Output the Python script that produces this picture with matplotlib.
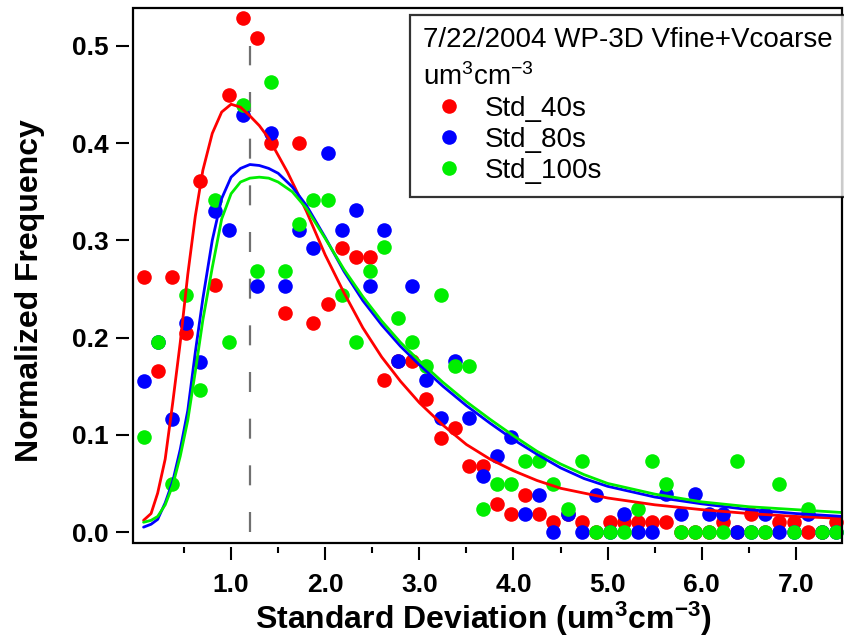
import matplotlib
matplotlib.use("Agg")
import matplotlib.pyplot as plt
from matplotlib.lines import Line2D
from matplotlib.patches import Rectangle

plt.rcParams['font.family'] = ['Liberation Sans', 'DejaVu Sans']
plt.rcParams['mathtext.fontset'] = 'custom'
plt.rcParams['mathtext.rm'] = 'Liberation Sans'
plt.rcParams['mathtext.bf'] = 'Liberation Sans:bold'
plt.rcParams['mathtext.default'] = 'rm'

# ---- data (bin centres, normalized frequencies) ----
bin_centers = [0.075, 0.225, 0.375, 0.525, 0.675, 0.825, 0.975, 1.125, 1.275, 1.425,
               1.575, 1.725, 1.875, 2.025, 2.175, 2.325, 2.475, 2.625, 2.775, 2.925,
               3.075, 3.225, 3.375, 3.525, 3.675, 3.825, 3.975, 4.125, 4.275, 4.425,
               4.575, 4.725, 4.875, 5.025, 5.175, 5.325, 5.475, 5.625, 5.775, 5.925,
               6.075, 6.225, 6.375, 6.525, 6.675, 6.825, 6.975, 7.125, 7.275, 7.425]

std_40s = [0.262, 0.166, 0.262, 0.205, 0.361, 0.254, 0.450, 0.529, 0.508, 0.400,
           0.225, 0.400, 0.215, 0.235, 0.292, 0.283, 0.283, 0.156, 0.176, 0.176,
           0.137, 0.097, 0.107, 0.068, 0.068, 0.029, 0.019, 0.038, 0.019, 0.010,
           0.019, 0.010, 0.000, 0.010, 0.010, 0.010, 0.010, 0.010, 0.000, 0.000,
           0.000, 0.010, 0.000, 0.019, 0.000, 0.010, 0.010, 0.000, 0.000, 0.010]

std_80s = [0.155, 0.195, 0.116, 0.215, 0.175, 0.330, 0.311, 0.429, 0.253, 0.410,
           0.253, 0.311, 0.292, 0.390, 0.311, 0.331, 0.253, 0.311, 0.176, 0.253,
           0.156, 0.117, 0.176, 0.117, 0.058, 0.078, 0.098, 0.019, 0.038, 0.000,
           0.019, 0.000, 0.038, 0.000, 0.019, 0.000, 0.000, 0.039, 0.019, 0.039,
           0.019, 0.019, 0.000, 0.000, 0.019, 0.000, 0.000, 0.019, 0.000, 0.000]

std_100s = [0.098, 0.195, 0.049, 0.244, 0.146, 0.341, 0.195, 0.439, 0.268, 0.463,
            0.268, 0.317, 0.341, 0.341, 0.244, 0.195, 0.268, 0.293, 0.220, 0.195,
            0.171, 0.244, 0.171, 0.171, 0.024, 0.049, 0.049, 0.073, 0.073, 0.049,
            0.024, 0.073, 0.000, 0.000, 0.000, 0.024, 0.073, 0.049, 0.000, 0.000,
            0.000, 0.000, 0.073, 0.000, 0.000, 0.049, 0.000, 0.024, 0.000, 0.000]

# ---- fitted curves ----
fit_40s_x = [0.07, 0.15, 0.22, 0.30, 0.38, 0.46, 0.54, 0.62, 0.70, 0.80, 0.90, 1.00,
             1.10, 1.20, 1.30, 1.40, 1.60, 1.80, 2.00, 2.20, 2.40, 2.60, 2.80, 3.00,
             3.25, 3.50, 3.75, 4.00, 4.25, 4.50, 4.75, 5.00, 5.50, 6.00, 6.50, 7.00, 7.50]
fit_40s_y = [0.012, 0.019, 0.040, 0.075, 0.133, 0.195, 0.265, 0.325, 0.372, 0.410, 0.432, 0.440,
             0.437, 0.428, 0.418, 0.405, 0.370, 0.330, 0.285, 0.246, 0.210, 0.180, 0.155, 0.133,
             0.110, 0.090, 0.075, 0.063, 0.053, 0.045, 0.040, 0.035, 0.028, 0.023, 0.019, 0.016, 0.014]

fit_80s_x = [0.07, 0.15, 0.22, 0.30, 0.38, 0.46, 0.54, 0.62, 0.70, 0.80, 0.90, 1.00,
             1.10, 1.20, 1.30, 1.40, 1.50, 1.65, 1.80, 2.00, 2.20, 2.40, 2.60, 2.80,
             3.00, 3.25, 3.50, 3.75, 4.00, 4.25, 4.50, 4.75, 5.00, 5.50, 6.00, 6.50, 7.00, 7.50]
fit_80s_y = [0.005, 0.008, 0.013, 0.030, 0.052, 0.085, 0.125, 0.185, 0.240, 0.300, 0.343, 0.365,
             0.374, 0.378, 0.377, 0.374, 0.369, 0.355, 0.336, 0.303, 0.268, 0.238, 0.213, 0.191,
             0.172, 0.150, 0.130, 0.112, 0.095, 0.080, 0.066, 0.055, 0.047, 0.036, 0.029, 0.023, 0.019, 0.016]

fit_100s_x = [0.07, 0.15, 0.22, 0.30, 0.38, 0.46, 0.54, 0.62, 0.70, 0.80, 0.90, 1.00,
              1.10, 1.20, 1.30, 1.40, 1.50, 1.65, 1.80, 2.00, 2.20, 2.40, 2.60, 2.80,
              3.00, 3.25, 3.50, 3.75, 4.00, 4.25, 4.50, 4.75, 5.00, 5.50, 6.00, 6.50, 7.00, 7.50]
fit_100s_y = [0.010, 0.012, 0.016, 0.028, 0.048, 0.078, 0.115, 0.165, 0.218, 0.272, 0.322, 0.348,
              0.360, 0.364, 0.365, 0.364, 0.360, 0.350, 0.333, 0.302, 0.270, 0.242, 0.217, 0.195,
              0.176, 0.154, 0.134, 0.116, 0.099, 0.083, 0.070, 0.059, 0.050, 0.039, 0.031, 0.026, 0.023, 0.020]

marker_line_x = 1.2
marker_line_y = [0.0, 0.5]

series_labels = ['Std_40s', 'Std_80s', 'Std_100s']
colors = ['#ff0000', '#0000ff', '#00ee00']
x_major = [1, 2, 3, 4, 5, 6, 7]
x_major_labels = ['1.0', '2.0', '3.0', '4.0', '5.0', '6.0', '7.0']
x_minor = [0.5, 1.5, 2.5, 3.5, 4.5, 5.5, 6.5]
y_major = [0.0, 0.1, 0.2, 0.3, 0.4, 0.5]
y_major_labels = ['0.0', '0.1', '0.2', '0.3', '0.4', '0.5']

# ---- figure ----
fig = plt.figure(figsize=(8.44, 6.39), dpi=100)
W, H = 844, 639
ax = fig.add_axes([133 / W, 1 - 543 / H, (842 - 133) / W, (543 - 8) / H])

series = [std_40s, std_80s, std_100s]
for vals, c in zip(series, colors):
    ax.plot(bin_centers, vals, linestyle='none', marker='o', ms=10.5,
            mfc=c, mec='none', zorder=3, clip_on=False)

ax.plot([marker_line_x, marker_line_x], marker_line_y, color='#707070', lw=1.6,
        dashes=(9, 12), zorder=2)

fits = [(fit_40s_x, fit_40s_y), (fit_80s_x, fit_80s_y), (fit_100s_x, fit_100s_y)]
for (fx, fy), c in zip(fits, colors):
    ax.plot(fx, fy, color=c, lw=2.0, zorder=4, solid_capstyle='round')

ax.set_xlim(-0.042, 7.49)
ax.set_ylim(-0.0113, 0.539)

# frame drawn as a rectangle; axis ticks are offset slightly outward
for s in ['left', 'top', 'right', 'bottom']:
    ax.spines[s].set_visible(False)
ax.spines['bottom'].set_position(('outward', 3))
ax.spines['left'].set_position(('outward', 3))
ax.add_patch(Rectangle((0, 0), 1, 1, transform=ax.transAxes, fill=False,
                       edgecolor='black', lw=1.6, clip_on=False, zorder=6))

ax.tick_params(axis='x', which='major', direction='out', length=9.5, width=1.5, pad=9)
ax.tick_params(axis='x', which='minor', direction='out', length=4.5, width=1.5)
ax.tick_params(axis='y', which='major', direction='out', length=9.5, width=1.5, pad=5)

ax.set_xticks(x_major)
ax.set_xticklabels(x_major_labels, fontsize=19, fontweight='bold')
ax.set_xticks(x_minor, minor=True)
ax.set_yticks(y_major)
ax.set_yticklabels(y_major_labels, fontsize=19, fontweight='bold')

ax.set_xlabel(r'Standard Deviation (um$^{\mathbf{3}}$cm$^{\mathbf{-3}}$)',
              fontsize=23, fontweight='bold')
ax.xaxis.set_label_coords(0.494, -0.106)
ax.set_ylabel('Normalized Frequency', fontsize=23, fontweight='bold')
ax.yaxis.set_label_coords(-0.124, 0.471)

handles = [Line2D([], [], linestyle='none', marker='o', ms=10.5, mfc=c, mec='none')
           for c in colors]
leg = ax.legend(handles, series_labels,
                title='7/22/2004 WP-3D Vfine+Vcoarse\num$^{3}$cm$^{-3}$',
                loc='upper left', bbox_to_anchor=(0.391, 0.987),
                fontsize=20, title_fontsize=20, frameon=True, fancybox=False,
                edgecolor='black', borderpad=0.45, handletextpad=0.35,
                labelspacing=0.18, handlelength=1.9, alignment='left',
                borderaxespad=0)
leg.get_title().set_linespacing(1.45)
leg.get_frame().set_linewidth(1.6)
leg.set_zorder(10)

fig.savefig('out.png', dpi=100)
